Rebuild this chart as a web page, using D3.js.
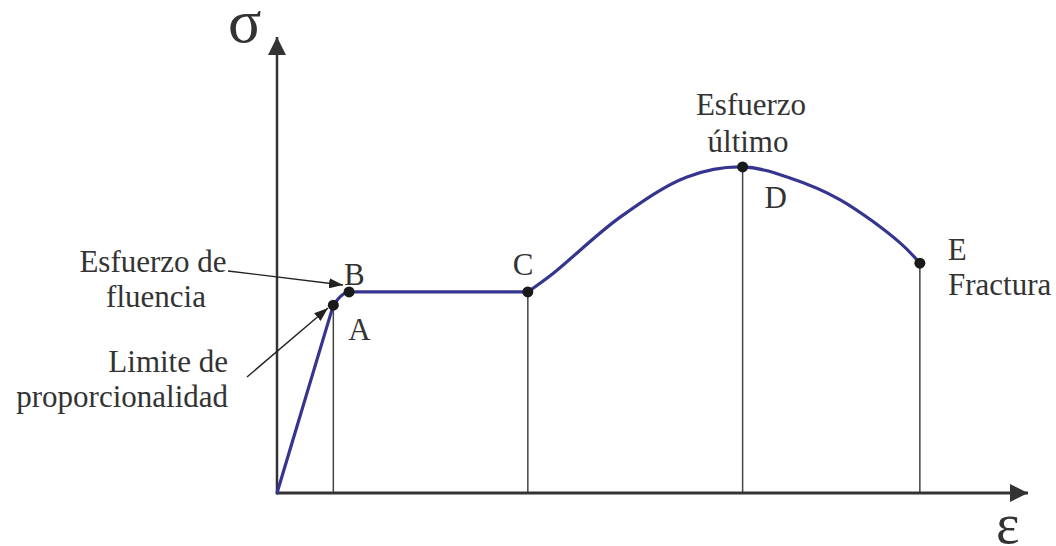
<!DOCTYPE html>
<html>
<head>
<meta charset="utf-8">
<script src="https://cdn.jsdelivr.net/npm/d3@7"></script>
<style>
  html, body { margin: 0; padding: 0; background: #fff; }
  svg { display: block; }
</style>
</head>
<body>
<svg id="chart" width="1056" height="546"></svg>
<script>
// ---- data (strain / stress in arbitrary units, 0..100) ----
const elasticStrain = [0, 7.5];
const elasticStress = [0, 41.2];
const yieldStrain = [7.5, 8.6, 9.6, 33.4];
const yieldStress = [41.2, 43.3, 44.1, 44.1];
const hardeningStrain = [33.4, 36.8, 45.7, 54.6, 62.0, 68.3, 75.0, 83.0, 85.6];
const hardeningStress = [44.1, 48.2, 60.5, 69.3, 71.5, 69.1, 64.3, 54.8, 50.4];
const pointNames = ["A", "B", "C", "D", "E"];
const pointStrain = [7.5, 9.6, 33.4, 62.0, 85.6];
const pointStress = [41.2, 44.1, 44.1, 71.5, 50.4];
const dropLinePoints = ["A", "C", "D", "E"];

const FONT = "'Liberation Serif', 'DejaVu Serif', serif";
const svg = d3.select("#chart");
const x = d3.scaleLinear().domain([0, 100]).range([277, 1028]);
const y = d3.scaleLinear().domain([0, 100]).range([493, 37]);

const axisColor = "#333";
const curveColor = "#35358f";
const textColor = "#333";

// arrow markers
const defs = svg.append("defs");
defs.append("marker").attr("id", "axArrow")
  .attr("viewBox", "0 0 18 18").attr("refX", 18).attr("refY", 9)
  .attr("markerWidth", 18).attr("markerHeight", 18)
  .attr("markerUnits", "userSpaceOnUse").attr("orient", "auto")
  .append("path").attr("d", "M0,0 L18,9 L0,18 Z").attr("fill", axisColor);
defs.append("marker").attr("id", "annArrow")
  .attr("viewBox", "0 0 14 10").attr("refX", 14).attr("refY", 5)
  .attr("markerWidth", 14).attr("markerHeight", 10)
  .attr("markerUnits", "userSpaceOnUse").attr("orient", "auto")
  .append("path").attr("d", "M0,0 L14,5 L0,10 Z").attr("fill", "#222");

// drop lines
const ptIdx = n => pointNames.indexOf(n);
svg.append("g").selectAll("line").data(dropLinePoints).join("line")
  .attr("x1", d => x(pointStrain[ptIdx(d)])).attr("x2", d => x(pointStrain[ptIdx(d)]))
  .attr("y1", d => y(pointStress[ptIdx(d)])).attr("y2", y(0))
  .attr("stroke", "#444").attr("stroke-width", 1.5);

// axes
svg.append("line").attr("x1", x(0)).attr("y1", y(0)).attr("x2", x(0)).attr("y2", y(100))
  .attr("stroke", axisColor).attr("stroke-width", 2.5).attr("marker-end", "url(#axArrow)");
svg.append("line").attr("x1", x(0) - 1).attr("y1", y(0)).attr("x2", x(100)).attr("y2", y(0))
  .attr("stroke", axisColor).attr("stroke-width", 3).attr("marker-end", "url(#axArrow)");

// curve
const pairs = (a, b) => a.map((s, i) => [s, b[i]]);
const lineGen = c => d3.line().x(d => x(d[0])).y(d => y(d[1])).curve(c);
const curveStyle = p => p.attr("fill", "none").attr("stroke", curveColor)
  .attr("stroke-width", 3.2).attr("stroke-linecap", "round").attr("stroke-linejoin", "round");
svg.append("path").attr("d", lineGen(d3.curveLinear)(pairs(elasticStrain, elasticStress))).call(curveStyle);
svg.append("path").attr("d", lineGen(d3.curveMonotoneX)(pairs(yieldStrain, yieldStress))).call(curveStyle);
svg.append("path").attr("d", lineGen(d3.curveCatmullRom.alpha(0.5))(pairs(hardeningStrain, hardeningStress))).call(curveStyle);

// points
svg.append("g").selectAll("circle").data(pointNames).join("circle")
  .attr("cx", (d, i) => x(pointStrain[i])).attr("cy", (d, i) => y(pointStress[i]))
  .attr("r", 5.5).attr("fill", "#1a1a1a");

// text helper
const txt = (tx, ty, s, size, anchor) => svg.append("text")
  .attr("x", tx).attr("y", ty).attr("font-size", size).attr("font-family", FONT)
  .attr("fill", textColor).attr("text-anchor", anchor || "start").text(s);

// point labels
const labelOffsets = { A: [15, -35], B: [-5, 7], C: [-15, 17], D: [22, -41], E: [28, 3] };
svg.append("g").selectAll("text").data(pointNames).join("text")
  .attr("x", (d, i) => x(pointStrain[i]) + labelOffsets[d][0])
  .attr("y", (d, i) => y(pointStress[i]) - labelOffsets[d][1])
  .attr("font-size", 31).attr("font-family", FONT).attr("fill", textColor).text(d => d);

txt(948, 295, "Fractura", 31);
txt(751, 115, "Esfuerzo", 31, "middle");
txt(748, 152, "último", 31, "middle");

txt(153, 272, "Esfuerzo de", 31, "middle");
txt(156, 307, "fluencia", 31, "middle");
txt(228, 372, "Limite de", 31, "end");
txt(228, 407, "proporcionalidad", 31, "end");

// annotation arrows
svg.append("line").attr("x1", 228).attr("y1", 271).attr("x2", 343).attr("y2", 285)
  .attr("stroke", "#222").attr("stroke-width", 1.4).attr("marker-end", "url(#annArrow)");
svg.append("line").attr("x1", 247).attr("y1", 377).attr("x2", 328).attr("y2", 308)
  .attr("stroke", "#222").attr("stroke-width", 1.4).attr("marker-end", "url(#annArrow)");

// axis symbols
txt(228, 42, "σ", 62);
txt(996, 543, "ε", 56);
</script>
</body>
</html>
